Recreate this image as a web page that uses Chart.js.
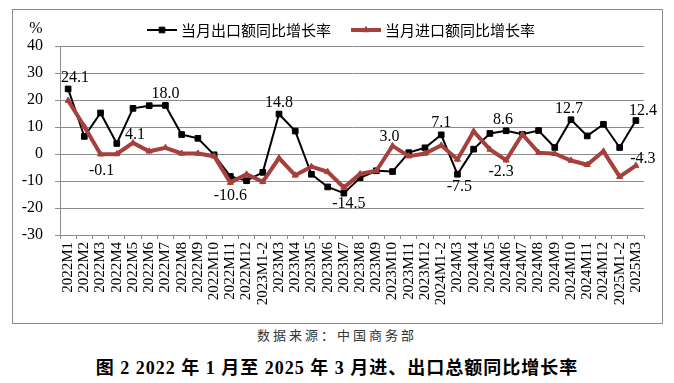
<!DOCTYPE html>
<html>
<head>
<meta charset="utf-8">
<script src="https://cdn.jsdelivr.net/npm/chart.js@4.4.1/dist/chart.umd.min.js"></script>
<style>
  body { margin: 0; width: 674px; height: 383px; background: #fff; position: relative; overflow: hidden; }
  #frame { position: absolute; left: 12px; top: 9px; width: 649px; height: 313px; border: 1px solid #8c8c8c; }
  #wrap { position: absolute; left: 13px; top: 10px; width: 648px; height: 312px; }
  #source { position: absolute; top: 325px; left: 0; width: 674px; text-align: center;
            font: 13px "Noto Sans CJK SC"; letter-spacing: 3px; color: #333; }
  #title { position: absolute; top: 353px; left: 0; width: 674px; text-align: center;
           font: bold 18px "Liberation Serif", "Noto Sans CJK SC"; letter-spacing: 1px; color: #000; }
</style>
</head>
<body>
<div id="frame"></div>
<div id="wrap"><canvas id="myChart" width="648" height="312"></canvas></div>
<div id="source">数据来源：中国商务部</div>
<div id="title">图 2 2022 年 1 月至 2025 年 3 月进、出口总额同比增长率</div>
<script>
  // Chart data
  const categories = [
    '2022M1', '2022M2', '2022M3', '2022M4', '2022M5', '2022M6', '2022M7', '2022M8', '2022M9', '2022M10', '2022M11', '2022M12',
    '2023M1-2', '2023M3', '2023M4', '2023M5', '2023M6', '2023M7', '2023M8', '2023M9', '2023M10', '2023M11', '2023M12',
    '2024M1-2', '2024M3', '2024M4', '2024M5', '2024M6', '2024M7', '2024M8', '2024M9', '2024M10', '2024M11', '2024M12',
    '2025M1-2', '2025M3'
  ];
  const exportGrowth = [
    24.1, 6.5, 15.2, 3.9, 16.9, 17.9, 18.0, 7.2, 5.8, -0.3, -8.3, -9.9,
    -6.8, 14.8, 8.5, -7.5, -12.2, -14.5, -8.8, -6.2, -6.5, 0.5, 2.3,
    7.1, -7.5, 1.8, 7.6, 8.6, 7.3, 8.7, 2.4, 12.7, 6.7, 11.0,
    2.4, 12.4
  ];
  const importGrowth = [
    19.8, 10.2, -0.1, 0.0, 4.1, 1.0, 2.3, 0.2, 0.2, -0.8, -10.6, -7.5,
    -10.3, -1.5, -7.9, -4.7, -6.6, -12.4, -7.4, -6.2, 3.0, -0.8, 0.2,
    3.2, -2.0, 8.4, 1.7, -2.3, 7.3, 0.5, 0.1, -2.4, -4.0, 1.0,
    -8.4, -4.3
  ];
  const seriesNames = ['当月出口额同比增长率', '当月进口额同比增长率'];
  const yMin = -30;
  const yMax = 40;
  const yStep = 10;

  // which points get a value label (series, index) and where it sits
  const labelledPoints = [
    { s: 0, i: 0, dx: 7, dy: -11 },
    { s: 0, i: 6, dx: 0, dy: -12 },
    { s: 0, i: 13, dx: 0, dy: -11 },
    { s: 0, i: 17, dx: 5, dy: 11 },
    { s: 0, i: 23, dx: 0, dy: -12 },
    { s: 0, i: 24, dx: 2, dy: 13 },
    { s: 0, i: 27, dx: -3, dy: -11 },
    { s: 0, i: 31, dx: -2, dy: -11 },
    { s: 0, i: 35, dx: 7, dy: -10 },
    { s: 1, i: 2, dx: 1, dy: 17 },
    { s: 1, i: 4, dx: 2, dy: -8 },
    { s: 1, i: 10, dx: 0, dy: 13 },
    { s: 1, i: 20, dx: -3, dy: -9 },
    { s: 1, i: 27, dx: -5, dy: 12 },
    { s: 1, i: 35, dx: 7, dy: -7 }
  ];

  const RED = '#a5403d';
  const GRID = '#8c8c8c';
  const SERIF = '"Liberation Serif", "Times New Roman", serif';
  const CJK = '"Noto Sans CJK SC", sans-serif';

  const decorations = {
    id: 'decorations',
    afterDatasetsDraw(chart) {
      const ctx = chart.ctx;
      ctx.save();
      ctx.font = '16px ' + SERIF;
      ctx.fillStyle = '#000';
      ctx.textAlign = 'center';
      ctx.textBaseline = 'middle';
      labelledPoints.forEach((p) => {
        const pt = chart.getDatasetMeta(p.s).data[p.i];
        const v = chart.data.datasets[p.s].data[p.i];
        ctx.fillText(v.toFixed(1), pt.x + p.dx, pt.y + p.dy);
      });
      ctx.restore();
    },
    afterDraw(chart) {
      const ctx = chart.ctx;
      ctx.save();
      // unit
      ctx.font = '16px ' + SERIF;
      ctx.fillStyle = '#000';
      ctx.textAlign = 'center';
      ctx.textBaseline = 'middle';
      ctx.fillText('%', 23, 19);

      // legend with line + marker
      const items = [
        { x: 134, ds: chart.data.datasets[0] },
        { x: 338, ds: chart.data.datasets[1] }
      ];
      ctx.font = '15px ' + CJK;
      ctx.textAlign = 'left';
      items.forEach((it) => {
        const y = 20;
        ctx.strokeStyle = it.ds.borderColor;
        ctx.fillStyle = it.ds.borderColor;
        ctx.lineWidth = it.ds.borderWidth;
        ctx.beginPath();
        ctx.moveTo(it.x, y);
        ctx.lineTo(it.x + 30, y);
        ctx.stroke();
        ctx.lineWidth = 1;
        Chart.helpers.drawPoint(ctx, {
          pointStyle: it.ds.pointStyle,
          radius: it.ds.pointRadius,
          rotation: 0,
          borderWidth: 1
        }, it.x + 15, y);
        ctx.fillStyle = '#000';
        ctx.fillText(it.ds.label, it.x + 34, y);
      });
      ctx.restore();
    }
  };

  const canvas = document.getElementById('myChart');
  canvas.chart = new Chart(canvas, {
    type: 'line',
    data: {
      labels: categories,
      datasets: [
        {
          label: seriesNames[0],
          data: exportGrowth,
          borderColor: '#000',
          backgroundColor: '#000',
          pointBackgroundColor: '#000',
          borderWidth: 2,
          pointBorderWidth: 1,
          pointStyle: 'rect',
          pointRadius: 4,
          tension: 0,
          order: 1
        },
        {
          label: seriesNames[1],
          data: importGrowth,
          borderColor: RED,
          backgroundColor: RED,
          pointBackgroundColor: RED,
          borderWidth: 4,
          pointBorderWidth: 1,
          pointStyle: 'triangle',
          pointRadius: 3.5,
          tension: 0,
          order: 0
        }
      ]
    },
    options: {
      responsive: false,
      animation: false,
      devicePixelRatio: 1,
      layout: { padding: { left: 0, right: 17, top: 36, bottom: 0 } },
      plugins: {
        legend: { display: false },
        tooltip: { enabled: false }
      },
      scales: {
        x: {
          offset: true,
          grid: { display: true, drawOnChartArea: false, offset: true, tickLength: 4, color: GRID },
          border: { color: GRID },
          ticks: {
            autoSkip: false,
            maxRotation: 90,
            minRotation: 90,
            padding: 3,
            color: '#000',
            font: { family: SERIF, size: 15 }
          },
          afterFit(scale) { scale.height = 87; }
        },
        y: {
          min: yMin,
          max: yMax,
          grid: { color: GRID, tickLength: 5 },
          border: { color: GRID },
          ticks: {
            stepSize: yStep,
            padding: 12,
            color: '#000',
            font: { family: SERIF, size: 16 }
          },
          afterFit(scale) { scale.width = 47; }
        }
      }
    },
    plugins: [decorations]
  });
</script>
</body>
</html>
